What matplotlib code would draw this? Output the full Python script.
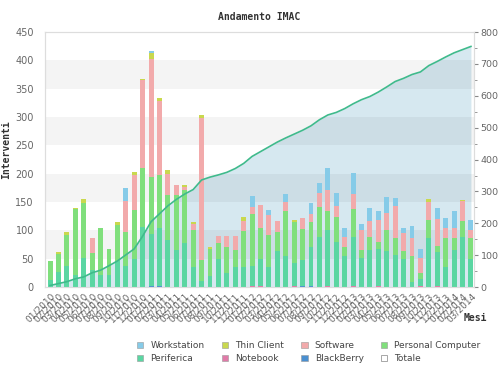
import matplotlib
matplotlib.use("Agg")
import matplotlib.pyplot as plt
from matplotlib.patches import Patch
from matplotlib.ticker import MultipleLocator
import numpy as np

# mesi 01/2010 - 03/2014
mesi = ["%02d/%d" % (m, y) for y in range(2010, 2015) for m in range(1, 13)][:51]

periferica = [12, 26, 38, 22, 52, 30, 22, 22, 46, 38, 50, 106, 92, 103, 83, 65, 77,
              35, 10, 20, 50, 24, 35, 36, 36, 48, 36, 63, 54, 40, 46, 68, 89, 98,
              80, 54, 86, 51, 65, 65, 63, 57, 50, 9, 12, 86, 60, 36, 65, 89, 50]
personal_computer = [34, 33, 54, 115, 96, 30, 82, 45, 63, 59, 86, 104, 101, 92, 79, 97,
                     94, 65, 37, 48, 27, 47, 30, 63, 91, 54, 56, 35, 81, 73, 55, 45,
                     53, 35, 44, 17, 50, 14, 24, 12, 38, 29, 13, 45, 10, 33, 11, 50,
                     21, 28, 36]
software = [0, 0, 0, 0, 0, 27, 0, 0, 0, 55, 62, 156, 208, 131, 38, 18, 6, 12, 251, 0,
            13, 19, 25, 18, 12, 40, 35, 18, 16, 0, 19, 14, 24, 36, 19, 17, 27, 36,
            27, 39, 29, 57, 32, 32, 27, 32, 48, 18, 18, 35, 15]
thin_client = [0, 3, 5, 3, 8, 0, 0, 0, 6, 0, 5, 2, 10, 6, 7, 0, 3, 3, 6, 3, 0, 0, 0,
               6, 0, 0, 0, 0, 0, 3, 0, 0, 0, 0, 0, 0, 0, 0, 0, 0, 0, 0, 0, 0, 0, 4,
               0, 0, 0, 2, 0]
workstation = [0, 0, 0, 0, 0, 0, 0, 0, 0, 23, 0, 0, 4, 0, 0, 0, 0, 0, 0, 0, 0, 0, 0,
               0, 19, 0, 9, 0, 14, 0, 0, 19, 17, 39, 23, 17, 36, 10, 24, 16, 29, 14,
               10, 22, 17, 0, 18, 18, 31, 0, 18]
notebook = [0, 0, 0, 0, 0, 0, 0, 0, 0, 0, 0, 0, 0, 0, 0, 0, 0, 0, 0, 0, 0, 0, 0, 0,
            2, 2, 0, 0, 0, 2, 0, 0, 0, 2, 0, 0, 2, 0, 0, 2, 0, 0, 0, 0, 2, 0, 2, 0,
            0, 0, 0]
blackberry = [0, 0, 0, 0, 0, 0, 0, 0, 0, 0, 0, 0, 2, 2, 0, 0, 0, 0, 0, 0, 0, 0, 0, 0,
              0, 0, 0, 0, 0, 0, 2, 2, 0, 0, 0, 0, 0, 0, 0, 0, 0, 0, 0, 0, 0, 0, 0, 0,
              0, 0, 0]
totale = [5, 11, 17, 26, 32, 45, 53, 67, 82, 101, 120, 160, 205, 230, 255, 275, 292,
          306, 336, 345, 352, 360, 372, 388, 410, 425, 440, 455, 468, 480, 492, 506,
          525, 540, 548, 560, 575, 588, 598, 612, 628, 645, 655, 667, 675, 695, 708,
          722, 735, 745, 755]

serie = [
    ("BlackBerry", blackberry, "#4a8fd0"),
    ("Notebook", notebook, "#e07aa8"),
    ("Periferica", periferica, "#5ad6a2"),
    ("Personal Computer", personal_computer, "#80df7c"),
    ("Software", software, "#f2aaab"),
    ("Thin Client", thin_client, "#c9d84e"),
    ("Workstation", workstation, "#86cbe8"),
]
col_tot = "#3fba8c"
grigio = "#666666"

fig = plt.figure(figsize=(4.98, 3.69), dpi=100, facecolor="white")
ax2 = fig.add_axes([0.0904, 0.222, 0.862, 0.691])
ax = ax2.twinx()
ax3 = ax2.twinx()
ax2.set_zorder(0)
ax.set_zorder(1)
ax3.set_zorder(2)
ax.patch.set_visible(False)
ax3.patch.set_visible(False)

x = np.arange(len(mesi))

# area e linea del totale (asse destro)
ax2.fill_between(x, totale, 0, color="#cfe5ee", alpha=0.85, lw=0)
ax2.set_ylim(0, 800)
ax2.set_xlim(-0.6, len(mesi) - 0.6)
ax3.plot(x, totale, color=col_tot, lw=1.2)
ax3.set_ylim(0, 800)
ax3.axis("off")

# barre impilate (asse sinistro)
ax.yaxis.tick_left()
ax.yaxis.set_label_position("left")
for y0 in (50, 150, 250, 350):
    ax.axhspan(y0, y0 + 50, color="#000000", alpha=0.045, lw=0, zorder=0)
base = np.zeros(len(mesi))
for nome, val, col in serie:
    ax.bar(x, val, 0.58, bottom=base, color=col, lw=0, zorder=2)
    base += np.array(val)
ax.set_ylim(0, 450)
ax.set_xlim(-0.6, len(mesi) - 0.6)
ax.yaxis.set_major_locator(MultipleLocator(50))
ax.tick_params(axis="y", length=0, labelsize=7, labelcolor=grigio, pad=8)
ax.set_ylabel("Interventi", family="DejaVu Sans Mono", weight="bold", fontsize=7,
              color="#333333")
ax.yaxis.set_label_coords(-0.078, 0.54)

ax2.yaxis.set_major_locator(MultipleLocator(100))
ax2.yaxis.set_minor_locator(MultipleLocator(50))
ax2.tick_params(axis="y", which="both", left=False, labelleft=False, right=True,
                labelright=True, labelsize=6.8, labelcolor=grigio, color="#888888",
                length=3, direction="out", pad=1.5)
ax2.tick_params(axis="y", which="minor", length=2)
ax.tick_params(axis="y", right=False, labelright=False)

ax2.set_xticks(x)
ax2.set_xticklabels(mesi, rotation=45, ha="right", rotation_mode="anchor",
                    fontsize=6.5, color=grigio)
ax2.tick_params(axis="x", length=0, pad=3)
ax.tick_params(axis="x", bottom=False, labelbottom=False)

for a in (ax, ax2, ax3):
    for s in a.spines.values():
        s.set_color("#dddddd")
        s.set_linewidth(0.8)

fig.text(0.52, 0.953, "Andamento IMAC", family="DejaVu Sans Mono", weight="bold",
         fontsize=7, ha="center", va="center", color="#333333")
fig.text(0.955, 0.138, "Mesi", family="DejaVu Sans Mono", weight="bold",
         fontsize=7, ha="center", va="center", color="#333333")

col = {n: c for n, _, c in serie}
ordine = ["Workstation", "Periferica", "Thin Client", "Notebook", "Software",
          "BlackBerry", "Personal Computer", "Totale"]
handles = []
for n in ordine:
    if n == "Totale":
        handles.append(Patch(facecolor="white", edgecolor="#999999", lw=0.6, label=n))
    else:
        handles.append(Patch(facecolor=col[n], edgecolor="#999999", lw=0.4, label=n))
fig.legend(handles=handles, loc="center", bbox_to_anchor=(0.62, 0.045), ncol=4,
           frameon=False, fontsize=6.5, handlelength=0.7, handleheight=0.7,
           columnspacing=1.9, handletextpad=0.8, labelspacing=0.45,
           labelcolor="#444444")

fig.savefig("out.png", dpi=100, facecolor="white")
